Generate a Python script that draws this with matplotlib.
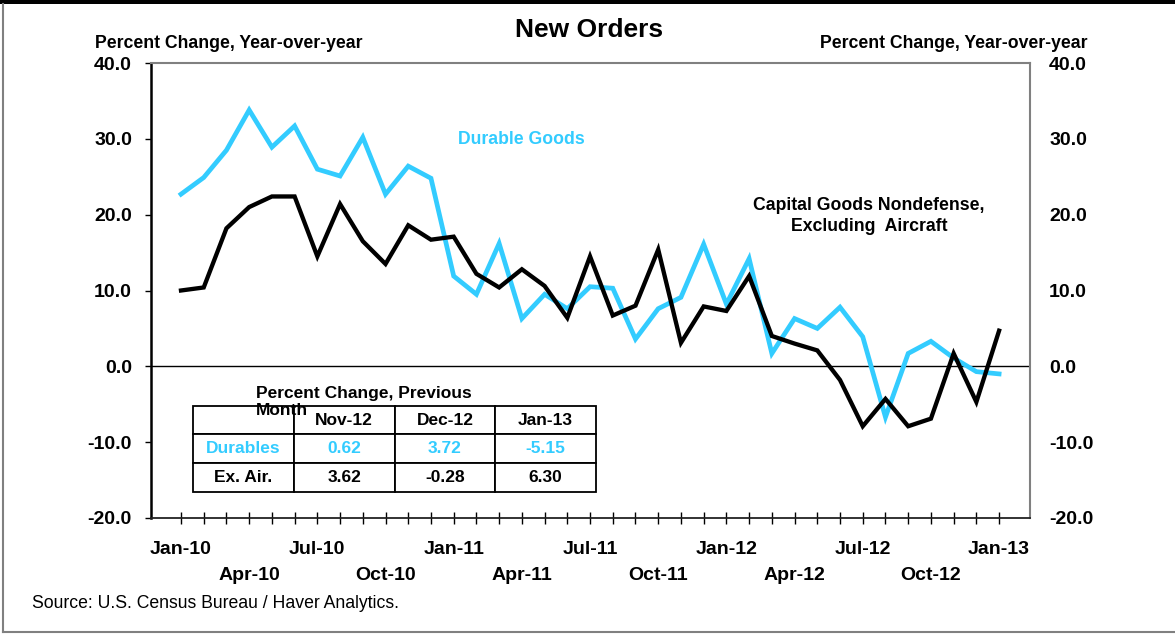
import numpy as np
import matplotlib
matplotlib.use("Agg")
import matplotlib.pyplot as plt
from matplotlib.lines import Line2D
from matplotlib.patches import Rectangle

plt.rcParams['font.family'] = ['Liberation Sans', 'DejaVu Sans']

# ---- data ----
month_labels = ['Jan-10', 'Apr-10', 'Jul-10', 'Oct-10', 'Jan-11', 'Apr-11', 'Jul-11',
                'Oct-11', 'Jan-12', 'Apr-12', 'Jul-12', 'Oct-12', 'Jan-13']

durable_goods = [22.7, 24.9, 28.5, 33.8, 28.9, 31.7, 26.0, 25.1, 30.2, 22.7, 26.4, 24.8,
                 11.9, 9.5, 16.2, 6.3, 9.5, 7.6, 10.5, 10.3, 3.6, 7.6, 9.1, 16.1,
                 8.2, 14.2, 1.7, 6.3, 5.0, 7.8, 3.9, -6.7, 1.7, 3.3, 1.1, -0.7,
                 -1.0]

capital_ex_air = [10.0, 10.4, 18.2, 21.0, 22.4, 22.4, 14.5, 21.4, 16.5, 13.5, 18.6, 16.7,
                  17.1, 12.2, 10.4, 12.8, 10.6, 6.4, 14.5, 6.7, 8.0, 15.4, 3.1, 7.9,
                  7.3, 11.9, 4.0, 3.0, 2.1, -1.8, -7.9, -4.3, -7.9, -6.9, 1.7, -4.7,
                  4.7]

table_cols = ['', 'Nov-12', 'Dec-12', 'Jan-13']
table_durables = ['Durables', '0.62', '3.72', '-5.15']
table_ex_air = ['Ex. Air.', '3.62', '-0.28', '6.30']

y_ticks = [-20, -10, 0, 10, 20, 30, 40]

CYAN = '#33CCFF'
GRAY = '#808080'

# ---- figure ----
W, H = 1175, 634
fig = plt.figure(figsize=(W / 100, H / 100), dpi=100)
ax = fig.add_axes([151 / W, 1 - 518 / H, (1030 - 151) / W, (518 - 63) / H])

months = np.arange(len(durable_goods))
ax.plot(months, durable_goods, color=CYAN, lw=3.4, solid_joinstyle='miter', zorder=3)
ax.plot(months, capital_ex_air, color='black', lw=3.1, solid_joinstyle='miter', zorder=4)
ax.axhline(0, color='black', lw=1.0, zorder=2)

ax.set_xlim(-1.32, 37.36)
ax.set_ylim(-20, 40)

# x ticks: every month, labels every quarter on two alternating rows
xlabels = []
for m in months:
    if m % 3 == 0:
        lab = month_labels[m // 3]
        xlabels.append(lab if m % 6 == 0 else '\n' + lab)
    else:
        xlabels.append('')
ax.set_xticks(months)
ax.set_xticklabels(xlabels, fontsize=14, fontweight='bold')
for t in ax.get_xticklabels():
    t.set_linespacing(1.75)
ax.tick_params(axis='x', direction='inout', length=8.6, width=1.0, pad=12, color='black')

# y ticks left and right
ax.set_yticks(y_ticks)
ax.set_yticklabels([f'{v:.1f}' for v in y_ticks], fontsize=14, fontweight='bold')
ax.tick_params(axis='y', direction='out', length=4.3, width=1.0, pad=9.4,
               left=True, right=False, labelleft=True, labelright=True)

for side in ['top', 'right']:
    ax.spines[side].set_color(GRAY)
    ax.spines[side].set_linewidth(1.5)
ax.spines['left'].set_color('black')
ax.spines['left'].set_linewidth(1.8)
ax.spines['bottom'].set_color('#222222')
ax.spines['bottom'].set_linewidth(1.3)

# series labels
fig.text(521 / W, 1 - 140 / H, 'Durable Goods', color=CYAN, fontsize=12.7,
         fontweight='bold', ha='center', va='center')
fig.text(869 / W, 1 - 216 / H, 'Capital Goods Nondefense,\nExcluding  Aircraft',
         fontsize=12.7, fontweight='bold', ha='center', va='center', linespacing=1.25)

# monthly change table
tbl = ax.table(cellText=[table_durables, table_ex_air], colLabels=table_cols,
               cellLoc='center', bbox=[(193 - 151) / 879, (518 - 491.7) / 455,
                                       (596 - 193) / 879, (491.7 - 405.7) / 455])
tbl.auto_set_font_size(False)
tbl.set_fontsize(12.5)
for (r, c), cell in tbl.get_celld().items():
    cell.set_edgecolor('black')
    cell.set_linewidth(1.3)
    cell.get_text().set_fontweight('bold')
    if r == 1:
        cell.get_text().set_color(CYAN)
tbl.set_zorder(5)
fig.text(256 / W, 1 - 402 / H, 'Percent Change, Previous\nMonth', fontsize=12.5,
         fontweight='bold', ha='left', va='center', linespacing=1.2, zorder=10)

# titles and axis captions
fig.text(589 / W, 1 - 30 / H, 'New Orders', fontsize=19, fontweight='bold',
         ha='center', va='center')
fig.text(95 / W, 1 - 43 / H, 'Percent Change, Year-over-year', fontsize=12.7,
         fontweight='bold', ha='left', va='center')
fig.text(1088 / W, 1 - 43 / H, 'Percent Change, Year-over-year', fontsize=12.7,
         fontweight='bold', ha='right', va='center')
fig.text(32 / W, 1 - 603 / H, 'Source: U.S. Census Bureau / Haver Analytics.',
         fontsize=12.7, ha='left', va='center')

# frame around the figure
fig.add_artist(Rectangle((0, 1 - 4 / H), 1, 4 / H, transform=fig.transFigure,
                         facecolor='black', edgecolor='none'))
fig.add_artist(Line2D([3 / W, 3 / W], [1 - 4 / H, 1 - 632 / H], transform=fig.transFigure,
                      color=GRAY, lw=1.5))
fig.add_artist(Line2D([3 / W, 1], [1 - 632 / H, 1 - 632 / H], transform=fig.transFigure,
                      color=GRAY, lw=1.5))

fig.savefig('out.png', dpi=100)
